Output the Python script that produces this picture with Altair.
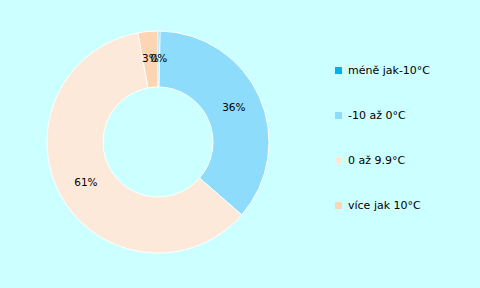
import altair as alt
import pandas as pd

categories = ["méně jak-10°C", "-10 až 0°C", "0 až 9.9°C", "více jak 10°C"]
values = [0.3, 36.1, 60.7, 2.9]
labels = ["0%", "36%", "61%", "3%"]
colors = ["#00b0f0", "#8ddcfc", "#fde9d9", "#fcd5b4"]

df = pd.DataFrame({
    "kat": categories,
    "val": values,
    "lab": labels,
    "ord": list(range(len(categories))),
})

base = alt.Chart(df).encode(
    theta=alt.Theta("val:Q", stack=True),
    order=alt.Order("ord:Q"),
    x=alt.value(158),
    y=alt.value(142),
)

arcs = base.mark_arc(outerRadius=111, innerRadius=55, stroke="white", strokeWidth=1).encode(
    color=alt.Color(
        "kat:N",
        sort=categories,
        scale=alt.Scale(domain=categories, range=colors),
        legend=alt.Legend(
            title=None,
            orient="none",
            legendX=333,
            legendY=65,
            symbolType="square",
            symbolSize=49,
            symbolStrokeWidth=0,
            labelFont="DejaVu Sans",
            labelFontSize=11,
            labelColor="#000000",
            rowPadding=33,
            labelOffset=4,
        ),
    )
)

texts = base.mark_text(radius=83, font="DejaVu Sans", fontSize=10.5, color="#000000").encode(
    text="lab:N"
)

chart = (arcs + texts).properties(
    width=480,
    height=288,
    autosize=alt.AutoSizeParams(type="none"),
    padding=0,
    background="#ccffff",
).configure_view(stroke=None)

chart.save("out.html", embed_options={"renderer": "svg", "actions": False})
